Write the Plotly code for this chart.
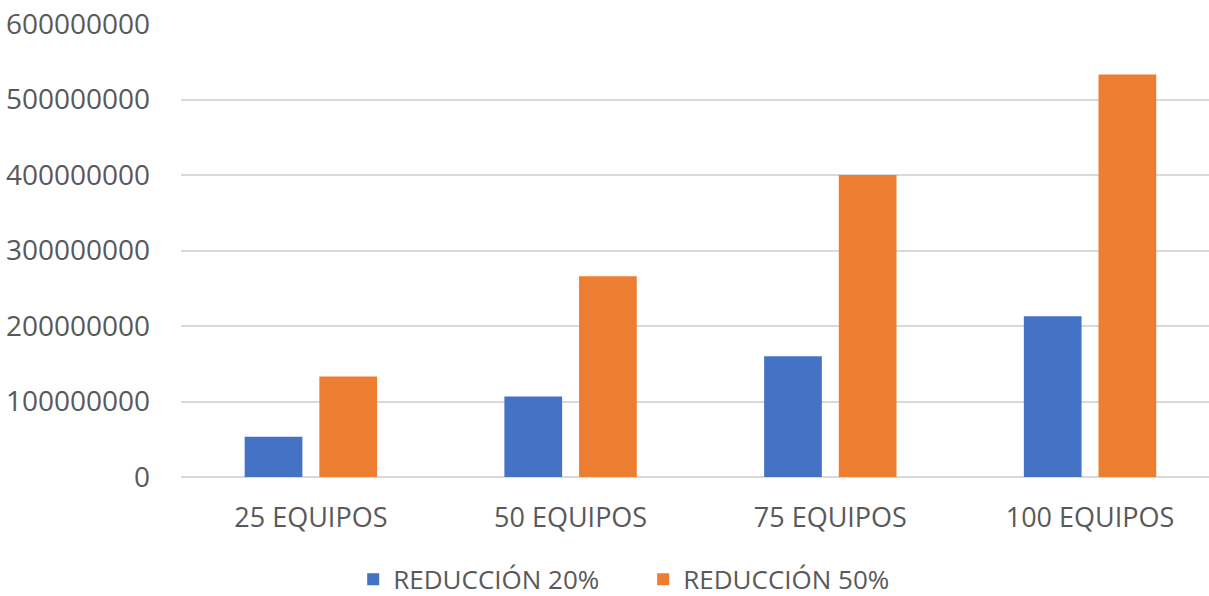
import plotly.graph_objects as go

categories = ["25 EQUIPOS", "50 EQUIPOS", "75 EQUIPOS", "100 EQUIPOS"]
series_names = ["REDUCCIÓN 20%", "REDUCCIÓN 50%"]
reduccion_20 = [53300000, 106600000, 160000000, 213000000]
reduccion_50 = [133000000, 266000000, 400000000, 533000000]
y_ticks = [0, 100000000, 200000000, 300000000, 400000000, 500000000, 600000000]
y_tick_labels = [str(v) for v in y_ticks]

colors = ["#4472C4", "#ED7D31"]
font_family = "Open Sans, Noto Sans, sans-serif"
text_color = "#595959"

fig = go.Figure()
fig.add_trace(go.Bar(x=categories, y=reduccion_20, name=series_names[0],
                     marker=dict(color=colors[0], line=dict(width=0))))
fig.add_trace(go.Bar(x=categories, y=reduccion_50, name=series_names[1],
                     marker=dict(color=colors[1], line=dict(width=0))))

fig.update_layout(
    width=1209, height=596,
    margin=dict(l=181, r=0, t=24, b=119),
    paper_bgcolor="white", plot_bgcolor="white",
    barmode="group", bargap=0.425, bargroupgap=0.227,
    font=dict(family=font_family, color=text_color, size=26),
    showlegend=True,
    legend=dict(orientation="h", xref="container", yref="container",
                x=0.532, y=0.028, xanchor="center", yanchor="middle",
                font=dict(size=26, color=text_color), itemwidth=30,
                entrywidth=245, traceorder="normal"),
)
fig.update_xaxes(range=[-0.5, 3.458], showgrid=False, showline=False,
                 ticks="", tickfont=dict(size=27, color=text_color),
                 ticklabelstandoff=22, type="category")
fig.update_yaxes(range=[0, 600000000], tickvals=y_ticks, ticktext=y_tick_labels,
                 showgrid=True, gridcolor="#D9D9D9", gridwidth=2,
                 zeroline=True, zerolinecolor="#D9D9D9", zerolinewidth=2,
                 showline=False, ticks="", tickfont=dict(size=28, color=text_color),
                 ticklabelstandoff=30)

fig.write_html(
    "out.html",
    config={"displayModeBar": False},
    post_script="document.body.style.margin='0';document.body.style.overflow='hidden';",
)
